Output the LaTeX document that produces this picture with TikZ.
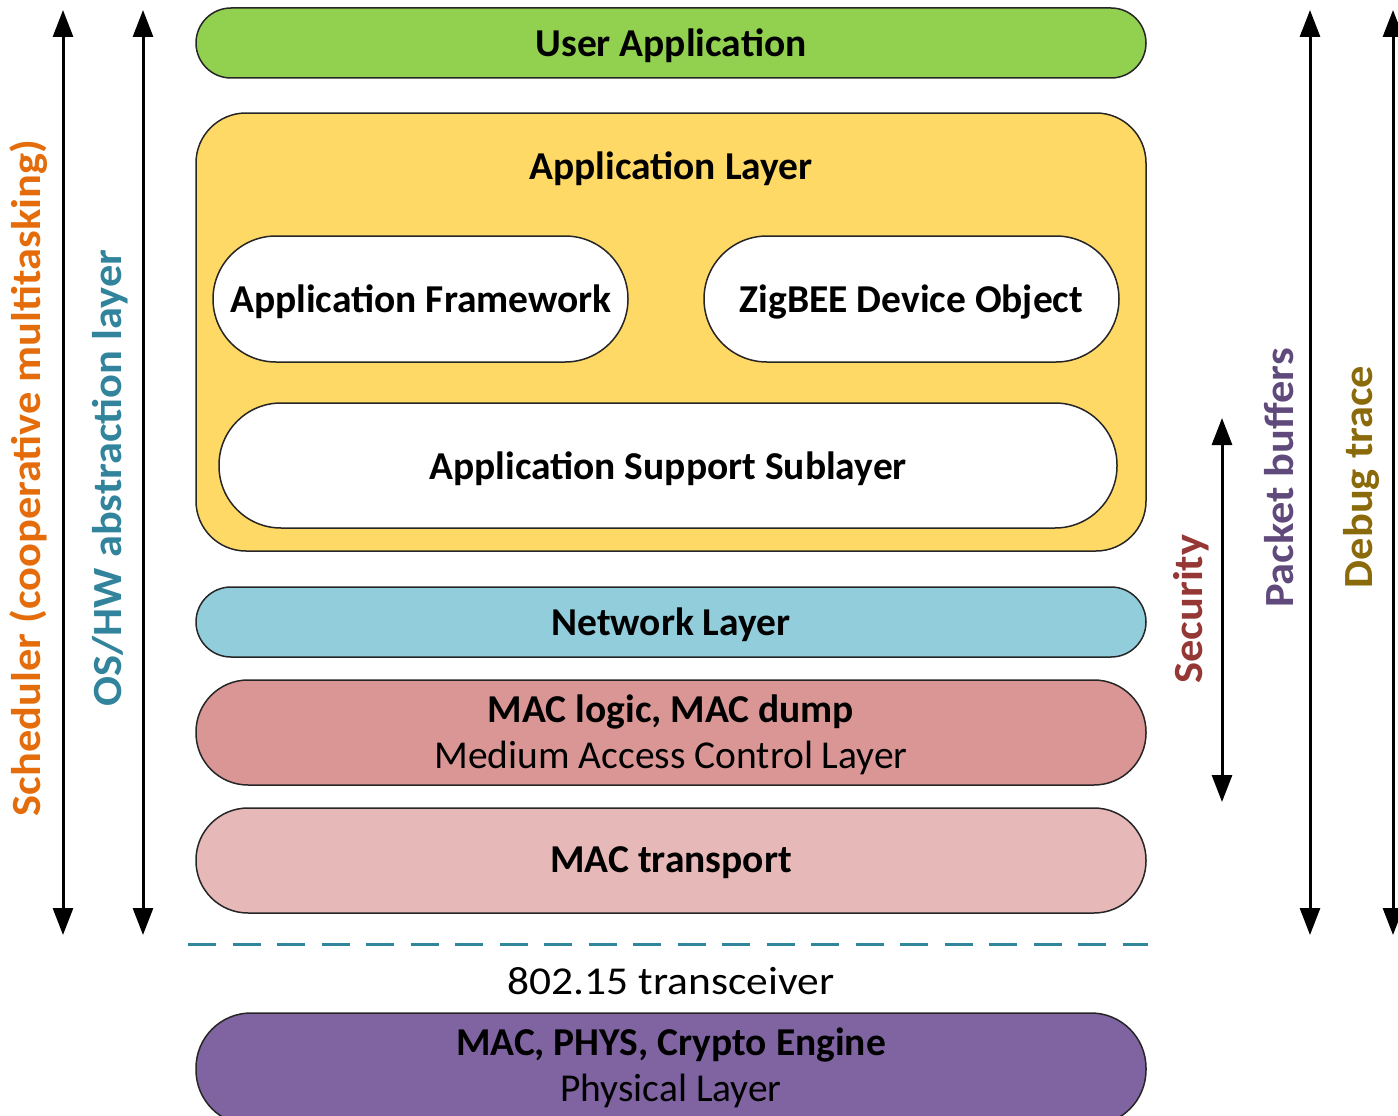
\documentclass[tikz,border=0pt]{standalone}
\usepackage{fontspec}
\setmainfont{Carlito}
\newfontfamily\sidefont[FakeStretch=1.07]{Carlito}
\newfontfamily\trxfont[FakeStretch=1.1]{Carlito}
\usetikzlibrary{arrows.meta}
\definecolor{cgreen}{HTML}{92D050}
\definecolor{cyellow}{HTML}{FFD966}
\definecolor{cblue}{HTML}{92CDDC}
\definecolor{cred}{HTML}{DA9694}
\definecolor{cpink}{HTML}{E6B8B7}
\definecolor{cpurple}{HTML}{8064A2}
\definecolor{cdash}{HTML}{31859C}
\definecolor{corange}{HTML}{E46C0A}
\definecolor{cteal}{HTML}{31849B}
\definecolor{csec}{HTML}{953735}
\definecolor{cpkt}{HTML}{604A7B}
\definecolor{cdbg}{HTML}{8A6A0A}
\tikzset{
  layer/.style={draw=black!85, line width=1.5pt, minimum width=950pt, inner sep=0pt},
  inner/.style={draw=black!85, line width=1.5pt, fill=white, inner sep=0pt},
  btxt/.style={font=\fontsize{39.5}{46}\selectfont\bfseries, inner sep=0pt},
  rtxt/.style={font=\fontsize{39.5}{46}\selectfont, inner sep=0pt},
  side/.style={font=\sidefont\fontsize{41.5}{46}\selectfont\bfseries, rotate=90, inner sep=0pt},
  dblarrow/.style={line width=3pt, {Triangle[length=27pt,width=20pt]}-{Triangle[length=27pt,width=20pt]}},
}
\begin{document}
\begin{tikzpicture}[x=1pt,y=-1pt]
\useasboundingbox (0,0) rectangle (1398,1116);
\clip (0,0) rectangle (1398,1116);
% left arrows
\coordinate (s1t) at (63,10); \coordinate (s1b) at (63,935);
\coordinate (s2t) at (143,10); \coordinate (s2b) at (143,935);
\draw[dblarrow] (s1t) -- (s1b);
\draw[dblarrow] (s2t) -- (s2b);
% right arrows
\coordinate (r1t) at (1310,10); \coordinate (r1b) at (1310,935);
\coordinate (r2t) at (1393,10); \coordinate (r2b) at (1393,935);
\coordinate (sct) at (1222,418); \coordinate (scb) at (1222,802);
\draw[dblarrow] (r1t) -- (r1b);
\draw[dblarrow] (r2t) -- (r2b);
\draw[dblarrow] (sct) -- (scb);
% side labels
\node[side, text=corange] (sched) at (29,478) {Scheduler (cooperative multitasking)};
\node[side, text=cteal] (oshw) at (110,478) {OS/HW abstraction layer};
\node[side, text=csec] (sec) at (1191,609) {Security};
\node[side, text=cpkt] (pkt) at (1279,478) {Packet buffers};
\node[side, text=cdbg] (dbg) at (1361,477) {Debug trace};
% layers
\node[layer, fill=cgreen, minimum height=70pt, rounded corners=35pt] (ua) at (671,43) {};
\node[btxt] at (671,46) {User Application};
\node[layer, fill=cyellow, minimum height=438pt, rounded corners=50pt] (al) at (671,332) {};
\node[btxt] (altxt) at (671,169) {Application Layer};
\node[inner, minimum width=415pt, minimum height=126pt, rounded corners=63pt] (af) at (420.5,299) {};
\node[btxt] at (421,302) {Application Framework};
\node[inner, minimum width=415pt, minimum height=126pt, rounded corners=63pt] (zdo) at (911.5,299) {};
\node[btxt] at (911.5,302) {ZigBEE Device Object};
\node[inner, minimum width=898pt, minimum height=125pt, rounded corners=62pt] (aps) at (668,465.5) {};
\node[btxt] at (668,469) {Application Support Sublayer};
\node[layer, fill=cblue, minimum height=70pt, rounded corners=35pt] (nl) at (671,622) {};
\node[btxt] at (671,625) {Network Layer};
\node[layer, fill=cred, minimum height=105pt, rounded corners=52pt] (mac) at (671,732.5) {};
\node[btxt] at (671,712) {MAC logic, MAC dump};
\node[rtxt] at (671,758) {Medium Access Control Layer};
\node[layer, fill=cpink, minimum height=105pt, rounded corners=52pt] (mact) at (671,860.5) {};
\node[btxt] at (671,863) {MAC transport};
% transceiver boundary
\coordinate (dl) at (188,944); \coordinate (dr) at (1148,944);
\draw[cdash, line width=3pt, dash pattern=on 28pt off 16.5pt] (dl) -- (dr);
\node[font=\trxfont\fontsize{39.5}{46}\selectfont, inner sep=0pt] (trx) at (671,981) {802.15 transceiver};
\node[layer, fill=cpurple, minimum height=112pt, rounded corners=55pt] (phy) at (671,1069) {};
\node[btxt] at (671,1045) {MAC, PHYS, Crypto Engine};
\node[rtxt] at (671,1091) {Physical Layer};
\end{tikzpicture}
\end{document}
